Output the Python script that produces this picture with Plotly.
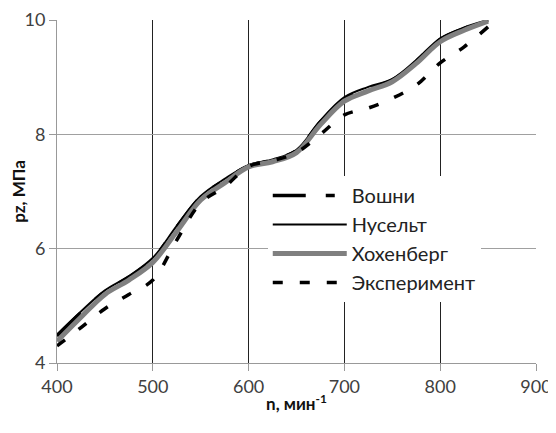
import plotly.graph_objects as go

n = [400, 425, 450, 475, 500, 525, 550, 575, 600, 625, 650, 675, 700, 725, 750, 775, 800, 825, 850]
voshni = [4.47, 4.88, 5.25, 5.5, 5.82, 6.38, 6.9, 7.2, 7.45, 7.55, 7.72, 8.22, 8.62, 8.8, 8.95, 9.28, 9.66, 9.85, 10.0]
nusselt = [4.5, 4.9, 5.27, 5.52, 5.84, 6.4, 6.92, 7.22, 7.46, 7.56, 7.73, 8.24, 8.65, 8.83, 8.97, 9.3, 9.68, 9.87, 10.0]
hohenberg = [4.38, 4.8, 5.2, 5.45, 5.76, 6.3, 6.85, 7.15, 7.43, 7.52, 7.68, 8.17, 8.58, 8.76, 8.92, 9.24, 9.62, 9.82, 9.98]
experiment = [4.3, 4.62, 4.95, 5.2, 5.45, 6.15, 6.8, 7.08, 7.44, 7.54, 7.68, 8.0, 8.34, 8.46, 8.63, 8.86, 9.25, 9.53, 9.88]

x_ticks = [400, 500, 600, 700, 800, 900]
y_ticks = [4, 6, 8, 10]

fig = go.Figure()
fig.add_trace(go.Scatter(x=n, y=voshni, name="Вошни", mode="lines",
                         line=dict(color="black", width=3.5, dash="33px,20px,9px,20px", shape="spline")))
fig.add_trace(go.Scatter(x=n, y=nusselt, name="Нусельт", mode="lines",
                         line=dict(color="black", width=2, shape="spline")))
fig.add_trace(go.Scatter(x=n, y=hohenberg, name="Хохенберг", mode="lines",
                         line=dict(color="#808080", width=5, shape="spline")))
fig.add_trace(go.Scatter(x=n, y=experiment, name="Эксперимент", mode="lines",
                         line=dict(color="black", width=3.5, dash="10px,17px", shape="spline")))

# page body has an 8px default margin, so the figure is shrunk by 8px to fit the window
fig.update_layout(
    width=548, height=425,
    margin=dict(l=49, r=20, t=12, b=70),
    paper_bgcolor="white", plot_bgcolor="white",
    font=dict(family="Lato, Open Sans, sans-serif", size=18, color="#404040"),
    showlegend=True,
    legend=dict(x=0.44, y=0.545, xanchor="left", yanchor="top",
                bgcolor="white", borderwidth=0, itemwidth=74,
                font=dict(size=20, color="#222"), tracegroupgap=0),
    xaxis=dict(range=[400, 900], tickvals=x_ticks, showgrid=True, gridcolor="#222", gridwidth=1,
               showline=True, linecolor="#999", linewidth=1, ticks="outside", ticklen=7, tickcolor="#999",
               zeroline=False, automargin=False,
               title=dict(text="<b>n, мин<sup>-1</sup></b>", font=dict(size=17, color="#111"), standoff=2)),
    yaxis=dict(range=[4, 10], tickvals=y_ticks, showgrid=True, gridcolor="#a0a0a0", gridwidth=1,
               showline=True, linecolor="#999", linewidth=1, ticks="outside", ticklen=7, tickcolor="#999",
               zeroline=False, automargin=False,
               title=dict(text="<b>pz, МПа</b>", font=dict(size=17, color="#111"), standoff=6)),
)
for i, tr in enumerate(fig.data):
    tr.legendgroup = str(i)
fig.update_layout(legend_traceorder="grouped")

fig.write_html("out.html")
